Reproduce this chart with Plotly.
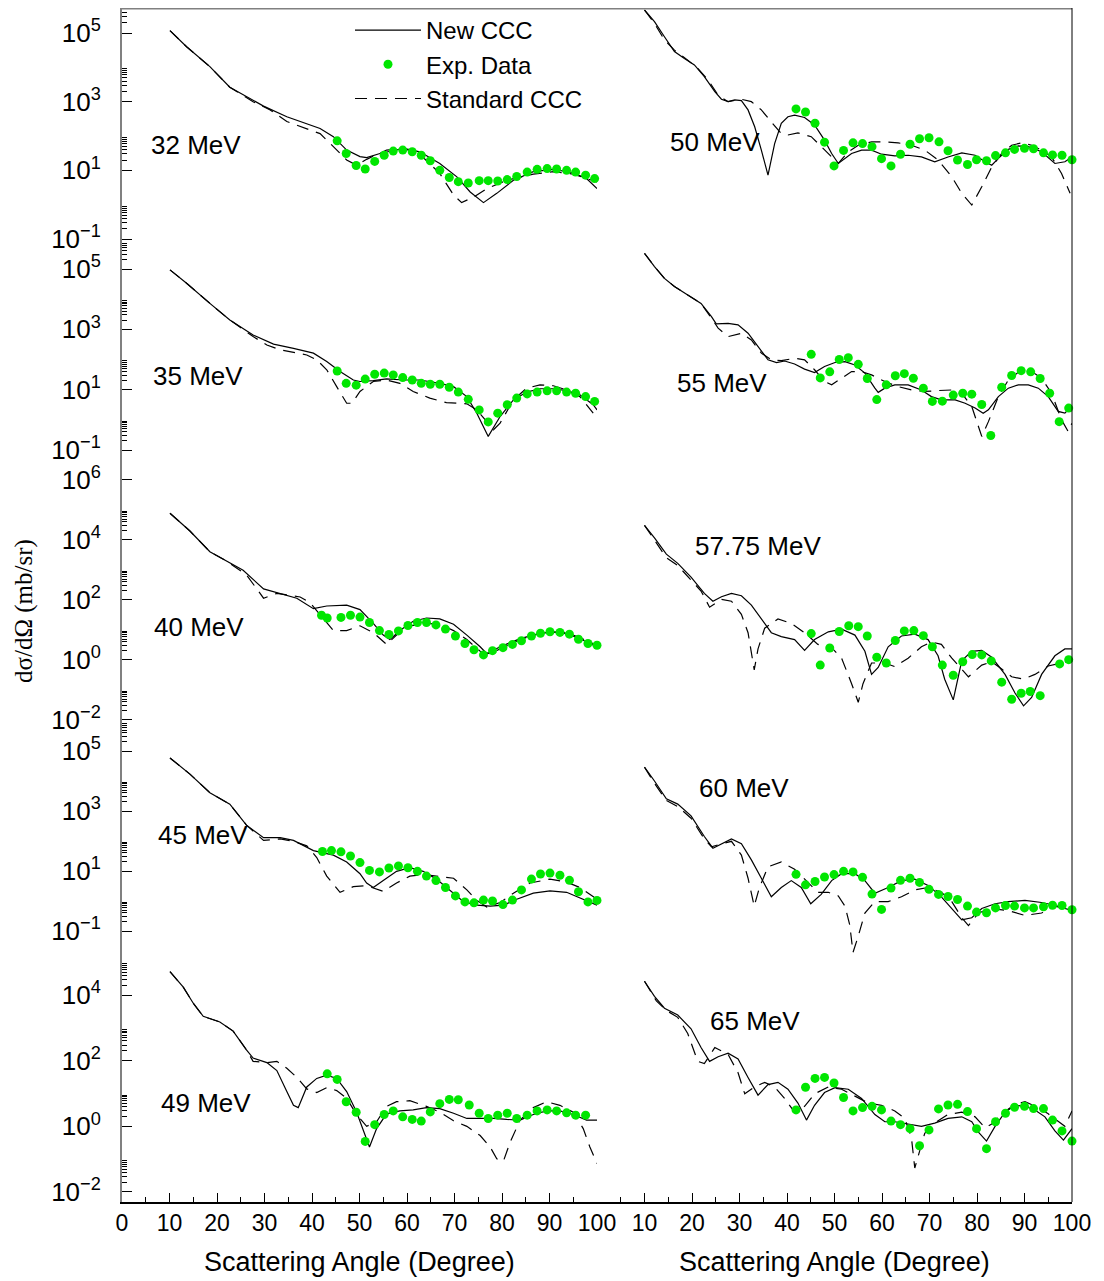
import plotly.graph_objects as go
from plotly.subplots import make_subplots

# ---------------- data: scattering angle (deg) and log10 of dsigma/dOmega (mb/sr) ----------------
# 32 MeV
ang_32_new = [10.1,13.6,18.5,22.7,29.8,34.7,41.7,44.5,47.3,50.1,51.5,54.3,59.3,62.7,66.9,70.5,73.3,76.1,78.9,82.4,86.6,90.8,95.0,97.8,100]
lg_32_new = [5.07,4.60,4.02,3.42,2.87,2.56,2.22,1.98,1.59,1.40,1.37,1.49,1.64,1.54,1.20,0.81,0.37,0.06,0.33,0.71,0.96,1.03,0.93,0.76,0.47]
ang_32_std = [10.1,13.6,18.5,22.7,27.6,31.2,34.7,38.9,41.7,44.5,47.3,49.4,51.5,55.7,59.3,62.7,66.9,69.8,71.5,74.0,76.8,81.0,86.6,90.8,95.0,100]
lg_32_std = [5.07,4.60,4.02,3.42,3.00,2.76,2.42,2.22,2.07,1.69,1.30,1.15,1.32,1.59,1.64,1.47,0.91,0.28,0.06,0.22,0.47,0.71,0.89,0.96,0.89,0.66]
ang_32_exp = [45.3,47.2,49.3,51.2,53.2,55.2,57.1,59.1,61.1,63.0,64.9,66.9,68.9,70.8,72.9,75.2,77.1,79.1,81.1,83.1,85.3,87.4,89.5,91.5,93.6,95.5,97.6,99.5]
lg_32_exp = [1.86,1.49,1.14,1.04,1.26,1.44,1.56,1.59,1.54,1.44,1.28,1.00,0.79,0.67,0.63,0.70,0.70,0.69,0.73,0.82,0.95,1.03,1.05,1.04,1.00,0.95,0.86,0.76]

# 35 MeV
ang_35_new = [10.1,13.6,18.5,22.7,27.6,31.9,36.1,40.3,43.1,45.9,48.7,50.1,52.9,55.7,59.3,62.7,66.9,69.8,72.6,74.7,77.1,79.6,82.4,85.2,88.0,90.8,93.6,96.4,99.2,100]
lg_35_new = [4.97,4.53,3.86,3.31,2.81,2.51,2.37,2.21,1.93,1.60,1.32,1.27,1.30,1.36,1.32,1.32,1.21,1.10,0.77,0.22,-0.55,0.11,0.66,0.92,1.03,1.03,0.97,0.83,0.50,0.33]
ang_35_std = [10.1,13.6,18.5,22.7,27.6,30.5,33.3,36.1,38.9,41.0,43.1,45.2,47.3,48.4,50.1,52.9,55.7,58.5,61.3,64.8,68.3,72.6,74.7,76.8,78.2,79.6,82.4,85.2,88.0,90.8,93.6,96.4,99.2]
lg_35_std = [4.97,4.53,3.86,3.31,2.76,2.48,2.32,2.24,2.15,1.99,1.66,1.10,0.55,0.55,0.94,1.27,1.32,1.21,0.94,0.72,0.57,0.53,0.33,-0.06,-0.33,-0.11,0.66,1.05,1.16,1.13,0.99,0.77,0.22]
ang_35_exp = [45.3,47.2,49.3,51.2,53.2,55.2,57.1,59.1,61.1,63.0,64.9,66.9,68.9,70.8,72.9,75.2,77.1,79.1,81.1,83.1,85.3,87.4,89.5,91.5,93.6,95.5,97.6,99.5]
lg_35_exp = [1.62,1.21,1.15,1.35,1.51,1.55,1.49,1.40,1.32,1.21,1.18,1.18,1.08,0.92,0.68,0.33,-0.07,0.22,0.50,0.72,0.86,0.92,0.96,0.96,0.92,0.88,0.77,0.61]

# 40 MeV
ang_40_new = [10.1,14.3,18.5,22.0,25.5,29.8,33.3,36.8,40.3,43.1,47.3,50.1,52.9,55.0,56.4,58.5,61.3,64.1,66.9,69.8,72.6,75.4,76.8,79.6,83.8,86.6,90.1,93.6,96.4,100]
lg_40_new = [4.89,4.30,3.61,3.30,2.99,2.37,2.22,2.06,1.71,1.80,1.83,1.68,1.22,0.83,0.68,0.98,1.29,1.40,1.37,1.19,0.83,0.44,0.21,0.44,0.71,0.83,0.94,0.88,0.71,0.44]
ang_40_std = [10.1,14.3,18.5,22.0,26.2,27.6,29.8,32.6,34.7,37.5,39.6,41.7,44.5,47.3,50.1,52.9,55.7,57.8,60.6,64.1,66.9,69.8,72.6,75.4,77.5,79.6,83.8,87.3,90.1,93.6,96.4,100]
lg_40_std = [4.89,4.30,3.61,3.30,2.84,2.53,2.06,2.22,2.17,2.10,1.91,1.52,0.98,0.98,1.14,0.91,0.52,0.83,1.14,1.22,1.19,0.98,0.68,0.29,0.21,0.37,0.68,0.86,0.94,0.91,0.75,0.48]
ang_40_exp = [42.0,43.2,46.1,48.1,50.1,52.1,54.2,56.2,58.2,60.2,62.2,64.1,66.1,68.1,70.2,72.2,74.1,76.1,78.0,80.2,82.2,84.1,86.2,88.1,90.1,92.2,94.2,96.1,98.1,100]
lg_40_exp = [1.49,1.40,1.42,1.49,1.43,1.25,0.98,0.85,0.97,1.15,1.25,1.25,1.17,1.03,0.80,0.55,0.34,0.17,0.31,0.41,0.52,0.64,0.80,0.89,0.94,0.92,0.86,0.69,0.55,0.49]

# 45 MeV
ang_45_new = [10.1,14.3,18.5,22.7,26.2,29.8,33.3,36.1,40.3,44.5,47.3,50.1,51.5,52.9,55.0,57.8,60.6,63.4,66.2,69.0,71.9,74.7,77.5,80.3,83.1,86.6,90.1,93.6,96.4,100]
lg_45_new = [4.77,4.23,3.61,3.23,2.53,2.11,2.11,2.02,1.68,1.53,1.30,0.91,0.60,0.45,0.68,0.99,1.11,0.99,0.73,0.37,-0.02,-0.14,-0.17,-0.14,0.06,0.26,0.34,0.29,0.11,-0.14]
ang_45_std = [10.1,14.3,18.5,22.7,26.2,29.8,33.3,36.1,38.9,41.0,43.1,45.9,48.7,51.5,55.0,57.8,60.6,63.4,66.2,69.8,72.6,74.7,76.8,79.6,82.4,85.9,90.1,93.6,96.4,100]
lg_45_std = [4.77,4.23,3.61,3.23,2.53,2.02,2.07,1.99,1.84,1.45,0.83,0.29,0.48,0.51,0.32,0.60,0.83,0.88,0.83,0.76,0.37,0.02,-0.20,-0.05,0.26,0.60,0.73,0.63,0.45,0.06]
ang_45_exp = [42.2,44.1,46.1,48.1,50.1,52.1,54.2,56.2,58.2,60.2,62.2,64.1,66.1,68.1,70.2,72.2,74.1,76.1,78.0,80.2,82.2,84.1,86.2,88.1,90.1,92.2,94.2,96.1,98.1,100]
lg_45_exp = [1.65,1.68,1.64,1.50,1.28,1.02,0.97,1.10,1.17,1.11,0.99,0.83,0.68,0.45,0.17,-0.03,-0.06,0.03,0.00,-0.12,0.03,0.37,0.73,0.90,0.93,0.86,0.69,0.31,-0.03,0.02]

# 49 MeV
ang_49_new = [10.1,12.9,15.0,17.1,20.6,23.4,26.2,27.6,30.5,32.6,34.7,36.1,37.1,38.9,41.0,43.1,45.2,47.3,49.4,50.8,52.1,53.6,55.7,58.5,61.3,64.1,66.9,69.8,72.6,75.4,78.2,81.0,83.8,86.6,89.4,92.2,95.0,97.8,100]
lg_49_new = [4.71,4.24,3.75,3.35,3.18,2.90,2.33,2.08,1.94,1.70,1.06,0.64,0.57,1.20,1.46,1.56,1.46,1.06,0.43,-0.14,-0.63,-0.07,0.38,0.47,0.50,0.57,0.54,0.40,0.24,0.24,0.24,0.21,0.19,0.36,0.47,0.47,0.36,0.19,0.19]
ang_49_std = [10.1,12.9,15.0,17.1,20.6,23.4,26.2,27.6,30.5,32.6,34.7,36.8,38.9,41.0,43.1,45.2,47.3,49.4,51.5,53.6,55.7,57.8,60.6,64.1,66.9,69.8,72.6,75.4,77.5,78.9,80.3,81.7,83.8,86.6,89.4,92.2,95.0,97.1,98.5,100]
lg_49_std = [4.71,4.24,3.75,3.35,3.18,2.90,2.33,1.98,1.94,1.98,1.77,1.49,1.14,1.03,1.18,1.09,0.85,0.36,0.00,0.14,0.61,0.75,0.78,0.61,0.43,0.17,0.00,-0.28,-0.63,-0.99,-1.06,-0.49,0.19,0.57,0.75,0.64,0.43,-0.07,-0.63,-1.13]
ang_49_exp = [43.2,45.3,47.2,49.3,51.2,53.2,55.2,57.1,59.1,61.1,63.0,64.9,66.9,68.9,70.8,73.1,75.2,77.1,79.1,81.1,83.1,85.3,87.4,89.5,91.5,93.6,95.5,97.6]
lg_49_exp = [1.60,1.43,0.75,0.43,-0.46,0.05,0.36,0.47,0.29,0.21,0.16,0.44,0.69,0.82,0.81,0.65,0.40,0.24,0.34,0.40,0.24,0.34,0.47,0.50,0.47,0.41,0.34,0.34]

# 50 MeV
ang_50_new = [10,12.1,14.2,16.3,18.4,20.5,22.6,24.8,26.2,27.6,29.0,30.4,31.8,33.2,34.6,36.0,37.4,38.8,40.2,41.6,43.7,45.8,47.9,49.4,50.8,52.2,53.6,55.7,57.8,59.9,62.7,65.5,68.3,71.1,73.9,76.8,79.6,81.7,83.1,84.5,86.6,88.7,90.8,93.6,96.4,98.5,100]
lg_50_new = [5.67,5.33,4.89,4.46,4.26,4.07,3.73,3.29,3.07,3.00,3.05,3.03,2.76,2.27,1.59,0.86,1.78,2.37,2.56,2.61,2.54,2.32,1.88,1.49,1.20,1.35,1.49,1.59,1.59,1.47,1.42,1.44,1.39,1.25,1.39,1.51,1.44,1.25,1.15,1.35,1.61,1.71,1.69,1.54,1.20,1.25,1.39]
ang_50_std = [10,12.1,14.2,16.3,19.1,21.2,23.4,25.5,27.6,30.4,32.5,34.6,36.7,38.8,40.2,42.3,45.1,47.2,49.4,50.8,52.9,55.0,57.8,60.6,63.4,66.2,69.0,71.8,74.7,76.8,78.9,81.0,83.1,85.2,87.3,89.4,91.5,93.6,95.7,97.8,99.6]
lg_50_std = [5.67,5.28,4.80,4.50,4.21,3.97,3.63,3.19,3.00,3.07,3.00,2.76,2.41,2.07,2.03,2.09,1.98,1.69,1.39,1.20,1.54,1.73,1.83,1.83,1.80,1.73,1.59,1.30,0.81,0.33,-0.01,0.52,1.10,1.49,1.73,1.80,1.73,1.59,1.39,0.91,0.33]
ang_50_exp = [41.9,43.9,45.9,47.9,49.9,51.9,53.9,55.9,57.9,59.9,61.9,63.9,65.9,67.9,69.9,72.0,73.9,75.9,78.0,79.9,82.0,83.9,86.0,87.9,90.0,91.9,94.0,95.9,97.9,100]
lg_50_exp = [2.79,2.70,2.37,1.82,1.13,1.58,1.80,1.78,1.69,1.34,1.13,1.47,1.76,1.92,1.95,1.83,1.57,1.30,1.17,1.31,1.28,1.43,1.51,1.61,1.64,1.63,1.51,1.45,1.44,1.31]

# 55 MeV
ang_55_new = [10,12.1,14.2,16.3,19.1,21.9,24.1,25.1,27.6,29.7,31.8,33.9,36.0,37.8,39.5,41.6,43.7,45.8,47.9,50.1,52.2,54.3,56.4,58.5,59.2,60.6,62.7,65.5,68.3,70.4,72.5,75.4,77.5,79.6,81.3,82.4,84.5,86.6,88.7,90.8,92.9,95.0,97.1,98.5,100]
lg_55_new = [5.52,5.08,4.69,4.42,4.14,3.86,3.42,3.18,3.20,3.15,2.87,2.43,1.99,1.90,1.95,1.85,1.68,1.57,1.77,1.90,1.93,1.82,1.55,1.05,0.91,1.05,1.16,1.16,0.99,0.77,0.66,0.66,0.55,0.39,0.22,0.33,0.77,1.05,1.16,1.16,1.05,0.77,0.28,0.22,0.46]
ang_55_std = [10,12.1,14.2,16.3,19.1,21.9,24.1,25.5,27.6,30.4,32.5,34.6,36.7,38.8,41.6,43.7,45.8,47.9,49.4,51.5,53.6,55.7,57.8,60.6,63.4,66.2,69.0,71.8,74.7,76.8,78.9,80.3,81.0,82.4,84.5,86.6,89.4,91.5,93.6,95.7,97.8,99.2,100]
lg_55_std = [5.52,5.08,4.69,4.42,4.14,3.86,3.37,3.04,2.76,2.87,2.65,2.21,1.99,1.96,2.04,1.99,1.66,1.27,1.16,1.38,1.60,1.60,1.49,1.27,1.10,0.99,0.94,0.97,0.99,0.88,0.44,-0.22,-0.55,-0.06,0.77,1.32,1.66,1.60,1.38,0.88,0.00,-0.39,-0.11]
ang_55_exp = [45.1,47.0,49.0,51.0,52.9,55.0,56.9,58.9,60.9,62.8,64.7,66.6,68.7,70.6,72.7,75.0,77.0,78.9,81.0,82.9,85.2,87.3,89.3,91.3,93.3,95.3,97.3,99.3]
lg_55_exp = [2.17,1.39,1.59,2.00,2.06,1.84,1.37,0.67,1.16,1.46,1.53,1.38,1.05,0.61,0.62,0.82,0.88,0.85,0.51,-0.52,1.08,1.47,1.63,1.59,1.37,0.88,-0.06,0.39]

# 57.75 MeV
ang_5775_new = [10,12.1,14.6,17.0,19.8,22.6,24.4,26.2,28.3,30.4,32.5,34.6,36.7,38.8,41.6,43.7,45.8,48.7,51.5,54.3,56.4,57.8,59.2,61.3,64.1,66.9,69.7,71.8,73.2,75.0,76.8,78.9,81.0,83.1,85.9,88.0,89.8,91.5,93.6,96.4,98.5,100]
lg_5775_new = [4.49,4.07,3.53,3.22,2.76,2.22,1.96,2.11,2.22,2.14,1.83,1.37,0.91,0.78,0.68,0.32,0.68,0.94,1.03,0.83,0.29,-0.48,-0.25,0.44,0.80,0.86,0.68,0.14,-0.64,-1.33,-0.02,0.29,0.32,0.09,-0.48,-1.10,-1.53,-1.25,-0.48,0.14,0.37,0.37]
ang_5775_std = [10,12.1,14.6,17.0,19.8,21.9,23.7,26.2,28.3,30.4,31.8,33.1,33.9,35.3,38.1,40.9,43.7,46.5,49.4,51.5,53.6,55.0,56.0,57.8,60.6,62.7,65.5,68.3,70.4,72.5,74.7,76.8,78.2,81.0,83.1,85.2,87.3,89.8,92.2,95.0,97.8,100]
lg_5775_std = [4.49,3.99,3.41,3.15,2.68,2.30,1.76,2.02,1.96,1.52,0.91,-0.33,0.37,1.06,1.37,1.22,0.91,0.52,0.41,0.06,-0.79,-1.41,-0.79,-0.10,-0.10,-0.22,0.06,0.44,0.60,0.52,0.06,-0.33,-0.56,-0.17,-0.06,-0.30,-0.56,-0.64,-0.48,-0.20,-0.10,-0.02]
ang_5775_exp = [45.1,47.0,49.0,51.0,53.0,55.0,56.9,58.9,60.9,62.8,64.7,66.7,68.7,70.6,72.7,75.0,77.0,79.0,81.0,83.0,85.2,87.3,89.3,91.2,93.3,97.4,99.3]
lg_5775_exp = [0.88,-0.17,0.40,0.95,1.14,1.11,0.80,0.09,-0.10,0.65,0.97,0.98,0.81,0.44,-0.17,-0.51,-0.06,0.18,0.17,-0.03,-0.74,-1.31,-1.11,-1.05,-1.19,-0.13,0.01]

# 60 MeV
ang_60_new = [10,12.1,14.6,17.0,19.8,22.6,24.4,26.2,28.3,30.4,32.5,34.6,36.7,38.8,40.9,43.0,45.0,47.2,49.4,51.5,54.3,56.4,58.5,61.3,64.1,66.9,69.7,72.5,74.7,76.8,78.9,81.0,83.8,86.6,90.1,93.6,96.4,100]
lg_60_new = [4.46,4.00,3.41,3.23,2.84,2.15,1.76,1.91,2.07,1.91,1.37,0.76,0.14,0.45,0.68,0.45,-0.09,0.22,0.68,0.91,0.91,0.68,0.26,0.45,0.68,0.73,0.52,0.14,-0.25,-0.63,-0.56,-0.25,-0.09,-0.02,0.02,-0.05,-0.14,-0.32]
ang_60_std = [10,12.1,14.6,17.0,19.8,22.6,24.1,26.2,28.3,30.4,31.8,33.1,34.2,36.0,38.8,41.6,44.4,46.5,48.7,50.8,52.2,53.2,53.9,55.0,56.4,58.5,61.3,64.1,66.9,69.7,72.5,74.7,76.8,78.2,80.3,83.1,86.6,90.1,93.6,96.4,100]
lg_60_std = [4.46,3.92,3.35,3.15,2.76,2.07,1.81,1.91,1.99,1.53,0.76,-0.17,0.45,1.14,1.30,1.06,0.60,0.29,0.29,0.17,-0.17,-0.79,-1.71,-1.17,-0.40,-0.02,-0.02,0.14,0.37,0.45,0.29,-0.02,-0.56,-0.82,-0.40,-0.25,-0.32,-0.48,-0.40,-0.17,-0.32]
ang_60_exp = [41.9,43.9,45.9,47.9,49.9,51.9,53.9,55.9,57.9,59.9,61.9,63.9,65.9,67.9,69.9,71.9,73.9,75.9,78.0,79.9,82.0,83.9,86.0,87.9,90.0,91.9,94.0,95.9,97.9,100]
lg_60_exp = [0.89,0.54,0.65,0.80,0.88,0.99,0.97,0.79,0.23,-0.28,0.43,0.69,0.76,0.62,0.39,0.22,0.15,0.05,-0.17,-0.37,-0.39,-0.23,-0.15,-0.17,-0.23,-0.23,-0.19,-0.14,-0.15,-0.29]

# 65 MeV
ang_65_new = [10,12.1,14.2,17.0,19.8,21.9,23.7,25.5,27.6,29.7,31.8,33.9,36.0,38.1,40.2,42.3,44.1,45.8,47.9,50.1,52.9,55.7,58.5,60.6,62.7,65.5,68.3,71.1,73.9,76.8,78.9,80.3,82.0,83.8,85.9,88.0,90.1,92.2,94.3,96.4,98.2,100]
lg_65_new = [4.42,3.96,3.60,3.39,2.97,2.40,1.98,2.12,2.23,2.05,1.49,0.95,1.27,1.34,1.13,0.71,0.19,0.64,1.03,1.18,1.13,0.85,0.36,0.14,0.14,0.07,0.00,0.10,0.24,0.29,0.14,-0.18,-0.45,0.00,0.43,0.64,0.61,0.50,0.29,-0.14,-0.42,-0.07]
ang_65_std = [10,12.5,14.6,17.0,19.1,21.2,22.6,24.8,27.6,29.7,31.1,33.2,35.3,37.4,39.5,41.6,43.7,45.8,48.7,51.5,54.3,57.1,59.9,62.7,64.8,66.2,66.9,68.0,69.0,71.1,73.9,76.8,79.6,81.7,83.1,85.2,88.0,90.1,92.9,95.0,97.1,98.5,100]
lg_65_std = [4.42,3.82,3.53,3.32,2.83,1.98,1.91,2.40,2.19,1.63,0.99,1.20,1.34,1.20,0.85,0.43,0.61,0.99,1.20,1.13,0.92,0.71,0.64,0.47,0.24,-0.35,-1.27,-0.70,-0.21,0.10,0.36,0.43,0.29,-0.04,0.07,0.38,0.67,0.75,0.57,0.38,0.14,0.00,0.47]
ang_65_exp = [41.9,43.9,45.9,47.9,49.9,51.9,53.9,55.9,57.9,59.9,61.9,63.9,65.9,67.9,69.9,71.9,73.9,75.9,78.0,79.9,82.0,83.9,86.0,87.9,90.0,91.9,94.0,95.9,97.9,100]
lg_65_exp = [0.50,1.19,1.46,1.49,1.32,0.88,0.47,0.57,0.61,0.50,0.16,0.05,-0.07,-0.59,-0.11,0.53,0.65,0.67,0.45,-0.07,-0.68,0.14,0.40,0.58,0.61,0.54,0.54,0.19,-0.14,-0.45]

energy_labels = ["32 MeV", "50 MeV", "35 MeV", "55 MeV", "40 MeV", "57.75 MeV", "45 MeV", "60 MeV", "49 MeV", "65 MeV"]
x_ticks_left = [0, 10, 20, 30, 40, 50, 60, 70, 80, 90, 100]
x_ticks_right = [10, 20, 30, 40, 50, 60, 70, 80, 90, 100]
row_decades = [[5, 3, 1, -1], [5, 3, 1, -1], [6, 4, 2, 0, -2], [5, 3, 1, -1], [4, 2, 0, -2]]

# ---------------- layout config (screen pixel geometry; page body has an 8px margin) ----------------
OFF = 8                      # default html body margin
SL, SR, ST, SB = 122, 1072, 8, 1202   # plot area on screen
PW, PH = SR - SL, SB - ST
W, H = 1104 - OFF, 1281 - OFF

def py2paper(sy):
    return (SB - sy) / PH

def px2paper(sx):
    return (sx - SL) / PW

row_bounds = [(8, 242), (242, 476), (476, 722), (722, 962), (962, 1202)]
row_domains = [(py2paper(b), py2paper(t)) for t, b in row_bounds]
row_ranges = [(-1.087, 5.728), (-1.862, 5.895), (-2.067, 6.133), (-2.033, 5.967), (-2.305, 5.006)]
label_px = [(196, 145), (715, 142), (198, 376), (722, 383), (199, 627), (758, 546),
            (203, 835), (744, 788), (206, 1103), (755, 1021)]

panels = [
    (ang_32_new, lg_32_new, ang_32_std, lg_32_std, ang_32_exp, lg_32_exp),
    (ang_50_new, lg_50_new, ang_50_std, lg_50_std, ang_50_exp, lg_50_exp),
    (ang_35_new, lg_35_new, ang_35_std, lg_35_std, ang_35_exp, lg_35_exp),
    (ang_55_new, lg_55_new, ang_55_std, lg_55_std, ang_55_exp, lg_55_exp),
    (ang_40_new, lg_40_new, ang_40_std, lg_40_std, ang_40_exp, lg_40_exp),
    (ang_5775_new, lg_5775_new, ang_5775_std, lg_5775_std, ang_5775_exp, lg_5775_exp),
    (ang_45_new, lg_45_new, ang_45_std, lg_45_std, ang_45_exp, lg_45_exp),
    (ang_60_new, lg_60_new, ang_60_std, lg_60_std, ang_60_exp, lg_60_exp),
    (ang_49_new, lg_49_new, ang_49_std, lg_49_std, ang_49_exp, lg_49_exp),
    (ang_65_new, lg_65_new, ang_65_std, lg_65_std, ang_65_exp, lg_65_exp),
]

FONT = "Liberation Sans, Arial, sans-serif"
GREEN = "#00e600"

fig = make_subplots(rows=5, cols=2, horizontal_spacing=0, vertical_spacing=0)

for i, (an, ln, ast, lst, ae, le) in enumerate(panels):
    r, c = i // 2 + 1, i % 2 + 1
    first = (i == 0)
    fig.add_trace(go.Scatter(x=an, y=[10 ** v for v in ln], mode="lines",
                             line=dict(color="black", width=1.2),
                             name="New CCC", legendrank=1, showlegend=first), row=r, col=c)
    fig.add_trace(go.Scatter(x=ast, y=[10 ** v for v in lst], mode="lines",
                             line=dict(color="black", width=1.2, dash="12px,8px"),
                             name="Standard CCC", legendrank=3, showlegend=first), row=r, col=c)
    fig.add_trace(go.Scatter(x=ae, y=[10 ** v for v in le], mode="markers",
                             marker=dict(color=GREEN, size=9), cliponaxis=False,
                             name="Exp. Data", legendrank=2, showlegend=first), row=r, col=c)

def sup(d):
    return "10<sup>" + (str(d) if d >= 0 else "\u2212" + str(-d)) + "</sup>"

layout = {}
for i in range(10):
    r, c = i // 2, i % 2
    idx = i + 1
    xk = "xaxis" if idx == 1 else f"xaxis{idx}"
    yk = "yaxis" if idx == 1 else f"yaxis{idx}"
    decs = row_decades[r]
    ycfg = dict(type="log", range=list(row_ranges[r]), domain=list(row_domains[r]),
                showgrid=False, zeroline=False, automargin=False)
    if c == 0:
        ycfg.update(showline=True, linecolor="#808080", linewidth=2,
                    tickmode="array", tickvals=[10 ** d for d in decs],
                    ticktext=[sup(d) for d in decs],
                    ticks="inside", ticklen=10, tickcolor="black", tickwidth=1,
                    ticklabelstandoff=14,
                    tickfont=dict(family=FONT, size=26, color="black"),
                    minor=dict(tickmode="array",
                               tickvals=[k * 10 ** d for d in decs for k in range(2, 10)],
                               ticks="inside", ticklen=5, tickcolor="black", tickwidth=1))
    else:
        ycfg.update(showline=False, showticklabels=False, ticks="")
    layout[yk] = ycfg

    xcfg = dict(range=[0, 100], domain=[0.0, 0.5] if c == 0 else [0.5, 1.0],
                showgrid=False, zeroline=False, automargin=False)
    if r == 4:
        xcfg.update(showline=True, linecolor="black", linewidth=1.5,
                    tickmode="array", tickvals=x_ticks_left if c == 0 else x_ticks_right,
                    ticks="inside", ticklen=9, tickcolor="black",
                    tickfont=dict(family=FONT, size=23, color="black"),
                    minor=dict(tick0=0, dtick=5, ticks="inside", ticklen=5, tickcolor="black"))
    else:
        xcfg.update(showline=False, showticklabels=False, ticks="")
    layout[xk] = xcfg

fig.update_layout(**layout)

annotations = []
for lab, (px, py) in zip(energy_labels, label_px):
    annotations.append(dict(x=px2paper(px), y=py2paper(py), xref="paper", yref="paper",
                            text=lab, showarrow=False, xanchor="center", yanchor="middle",
                            font=dict(family=FONT, size=26, color="black")))
for xc in (0.25, 0.75):
    annotations.append(dict(x=xc, y=py2paper(1262), xref="paper", yref="paper",
                            text="Scattering Angle (Degree)", showarrow=False,
                            xanchor="center", yanchor="middle",
                            font=dict(family=FONT, size=27, color="black")))
annotations.append(dict(x=px2paper(24), y=py2paper(611), xref="paper", yref="paper",
                        text="d\u03c3/d\u03a9 (mb/sr)", showarrow=False, textangle=-90,
                        xanchor="center", yanchor="middle",
                        font=dict(family="Liberation Serif, Times New Roman, serif", size=25, color="black")))

shapes = [
    dict(type="line", xref="paper", yref="paper", x0=0, x1=1, y0=1, y1=1,
         line=dict(color="#808080", width=3)),
    dict(type="line", xref="paper", yref="paper", x0=1, x1=1, y0=0, y1=1,
         line=dict(color="black", width=1)),
]

fig.update_layout(
    width=W, height=H,
    margin=dict(l=SL - OFF, r=W - (SR - OFF), t=ST - OFF, b=H - (SB - OFF), autoexpand=False),
    paper_bgcolor="white", plot_bgcolor="white",
    annotations=annotations, shapes=shapes,
    showlegend=True,
    legend=dict(x=px2paper(350), y=py2paper(8), xanchor="left", yanchor="top",
                bgcolor="rgba(0,0,0,0)", borderwidth=0, itemwidth=66,
                tracegroupgap=0,
                font=dict(family=FONT, size=24, color="black")),
    font=dict(family=FONT, color="black"),
)

fig.write_html("out.html")
